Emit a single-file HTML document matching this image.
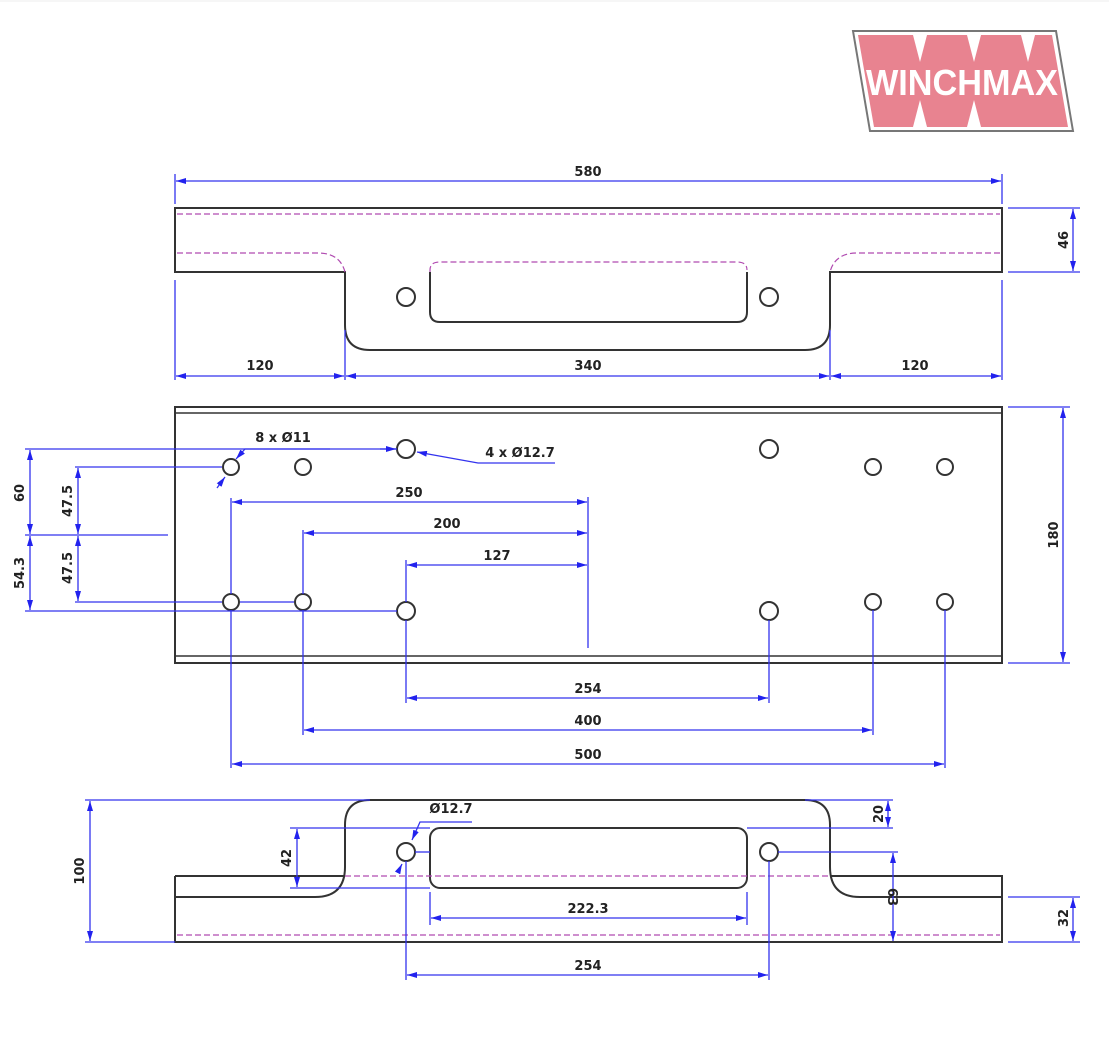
<!DOCTYPE html>
<html><head><meta charset="utf-8"><style>
html,body{margin:0;padding:0;background:#fff;}
svg{display:block;}
text{font-family:"DejaVu Sans","Liberation Sans",sans-serif;font-weight:bold;font-size:13px;fill:#222;}
</style></head><body>
<svg width="1109" height="1038" viewBox="0 0 1109 1038" xmlns="http://www.w3.org/2000/svg">
<defs>
<marker id="a" viewBox="0 0 10 6" refX="10" refY="3" markerWidth="10" markerHeight="6" orient="auto-start-reverse" markerUnits="userSpaceOnUse"><path d="M0,0 L10,3 L0,6 z" fill="#2222ee"/></marker>
</defs>
<line x1="0" y1="1" x2="1109" y2="1" stroke="#eee"/>
<!-- logo -->
<polygon points="853,31 1056,31 1073,131 870,131" fill="#fff" stroke="#777" stroke-width="2"/>
<polygon points="858,35 1052,35 1068,127 874,127" fill="#e88390"/>
<g fill="#fff">
<polygon points="913,35 927,35 920,62"/><polygon points="967,35 981,35 974,62"/><polygon points="1021,35 1035,35 1028,62"/>
<polygon points="913,127 927,127 920,100"/><polygon points="967,127 981,127 974,100"/>
</g>
<text x="962" y="95" text-anchor="middle" textLength="192" lengthAdjust="spacingAndGlyphs" style="font-family:'Liberation Sans',sans-serif;font-size:36px;font-weight:bold;fill:#fff">WINCHMAX</text>

<g fill="none" stroke="#333" stroke-width="2">
<!-- top view -->
<path d="M345,272 L175,272 L175,208 L1002,208 L1002,272 L830,272 L830,325 Q830,350 805,350 L370,350 Q345,350 345,325 Z"/>
<path d="M440,322 Q430,322 430,312 M430,312 L430,272 M747,272 L747,312 Q747,322 737,322 L440,322"/>
<circle cx="406" cy="297" r="9"/><circle cx="769" cy="297" r="9"/>
<!-- middle -->
<rect x="175" y="407" width="827" height="256"/>
<line x1="175" y1="413" x2="1002" y2="413" stroke-width="1.5"/>
<line x1="175" y1="656" x2="1002" y2="656" stroke-width="1.5"/>
<circle cx="231" cy="467" r="8"/><circle cx="303" cy="467" r="8"/><circle cx="406" cy="449" r="9"/><circle cx="769" cy="449" r="9"/><circle cx="873" cy="467" r="8"/><circle cx="945" cy="467" r="8"/>
<circle cx="231" cy="602" r="8"/><circle cx="303" cy="602" r="8"/><circle cx="406" cy="611" r="9"/><circle cx="769" cy="611" r="9"/><circle cx="873" cy="602" r="8"/><circle cx="945" cy="602" r="8"/>
<!-- bottom -->
<path d="M175,876 L175,942 L1002,942 L1002,876 L830,876"/>
<path d="M175,876 L345,876"/>
<path d="M175,897 L315,897 Q345,897 345,867 L345,825 Q345,800 370,800 L805,800 Q830,800 830,825 L830,867 Q830,897 860,897 L1002,897"/>
<rect x="430" y="828" width="317" height="60" rx="10"/>
<circle cx="406" cy="852" r="9"/><circle cx="769" cy="852" r="9"/>
</g>
<g fill="none" stroke="#b04ab0" stroke-width="1.2" stroke-dasharray="6,3">
<line x1="177" y1="214" x2="1000" y2="214"/>
<path d="M177,253 L318,253 Q340,253 345,272"/>
<path d="M1000,253 L857,253 Q835,253 830,272"/>
<path d="M430,272 L430,270 Q430,262 440,262 L737,262 Q747,262 747,270"/>
<line x1="345" y1="876" x2="830" y2="876"/>
<line x1="177" y1="935" x2="1000" y2="935"/>
</g>

<g stroke="#3333ee" stroke-width="1.3" fill="none">
<line x1="175" y1="174" x2="175" y2="204"/><line x1="1002" y1="174" x2="1002" y2="204"/>
<line x1="176" y1="181" x2="1001" y2="181" marker-start="url(#a)" marker-end="url(#a)"/>
<line x1="175" y1="280" x2="175" y2="380"/><line x1="345" y1="330" x2="345" y2="380"/><line x1="830" y1="330" x2="830" y2="380"/><line x1="1002" y1="280" x2="1002" y2="380"/>
<line x1="176" y1="376" x2="344" y2="376" marker-start="url(#a)" marker-end="url(#a)"/>
<line x1="346" y1="376" x2="829" y2="376" marker-start="url(#a)" marker-end="url(#a)"/>
<line x1="831" y1="376" x2="1001" y2="376" marker-start="url(#a)" marker-end="url(#a)"/>
<line x1="1008" y1="208" x2="1080" y2="208"/><line x1="1008" y1="272" x2="1080" y2="272"/>
<line x1="1073" y1="209" x2="1073" y2="271" marker-start="url(#a)" marker-end="url(#a)"/>
<line x1="1008" y1="407" x2="1070" y2="407"/><line x1="1008" y1="663" x2="1070" y2="663"/>
<line x1="1063" y1="408" x2="1063" y2="662" marker-start="url(#a)" marker-end="url(#a)"/>
<line x1="25" y1="449" x2="397" y2="449"/><line x1="75" y1="467" x2="222" y2="467"/><line x1="25" y1="535" x2="168" y2="535"/>
<line x1="75" y1="602" x2="222" y2="602"/><line x1="25" y1="611" x2="397" y2="611"/><line x1="240" y1="602" x2="294" y2="602"/>
<line x1="30" y1="450" x2="30" y2="534" marker-start="url(#a)" marker-end="url(#a)"/>
<line x1="30" y1="536" x2="30" y2="610" marker-start="url(#a)" marker-end="url(#a)"/>
<line x1="78" y1="468" x2="78" y2="534" marker-start="url(#a)" marker-end="url(#a)"/>
<line x1="78" y1="536" x2="78" y2="601" marker-start="url(#a)" marker-end="url(#a)"/>
<line x1="231" y1="498" x2="231" y2="594"/><line x1="231" y1="610" x2="231" y2="768"/>
<line x1="303" y1="530" x2="303" y2="594"/><line x1="303" y1="610" x2="303" y2="735"/>
<line x1="406" y1="560" x2="406" y2="602"/><line x1="406" y1="620" x2="406" y2="703"/>
<line x1="769" y1="620" x2="769" y2="703"/><line x1="873" y1="610" x2="873" y2="735"/><line x1="945" y1="610" x2="945" y2="768"/>
<line x1="588" y1="497" x2="588" y2="648"/>
<line x1="232" y1="502" x2="587" y2="502" marker-start="url(#a)" marker-end="url(#a)"/>
<line x1="304" y1="533" x2="587" y2="533" marker-start="url(#a)" marker-end="url(#a)"/>
<line x1="407" y1="565" x2="587" y2="565" marker-start="url(#a)" marker-end="url(#a)"/>
<line x1="407" y1="698" x2="768" y2="698" marker-start="url(#a)" marker-end="url(#a)"/>
<line x1="304" y1="730" x2="872" y2="730" marker-start="url(#a)" marker-end="url(#a)"/>
<line x1="232" y1="764" x2="944" y2="764" marker-start="url(#a)" marker-end="url(#a)"/>
<path d="M330,449 L245,449 L236,459" marker-end="url(#a)"/>
<line x1="217" y1="488" x2="225" y2="477" marker-end="url(#a)"/>
<path d="M555,463 L478,463 L417,452" marker-end="url(#a)"/>
<line x1="380" y1="449" x2="396" y2="449" marker-end="url(#a)"/>
<line x1="85" y1="800" x2="370" y2="800"/><line x1="85" y1="942" x2="175" y2="942"/>
<line x1="90" y1="801" x2="90" y2="941" marker-start="url(#a)" marker-end="url(#a)"/>
<line x1="290" y1="828" x2="430" y2="828"/><line x1="290" y1="888" x2="430" y2="888"/>
<line x1="297" y1="829" x2="297" y2="887" marker-start="url(#a)" marker-end="url(#a)"/>
<line x1="805" y1="800" x2="893" y2="800"/><line x1="747" y1="828" x2="893" y2="828"/>
<line x1="888" y1="801" x2="888" y2="827" marker-start="url(#a)" marker-end="url(#a)"/>
<line x1="778" y1="852" x2="898" y2="852"/>
<line x1="893" y1="853" x2="893" y2="941" marker-start="url(#a)" marker-end="url(#a)"/>
<line x1="1008" y1="897" x2="1080" y2="897"/><line x1="1008" y1="942" x2="1080" y2="942"/>
<line x1="1073" y1="898" x2="1073" y2="941" marker-start="url(#a)" marker-end="url(#a)"/>
<line x1="430" y1="892" x2="430" y2="925"/><line x1="747" y1="892" x2="747" y2="925"/>
<line x1="431" y1="918" x2="746" y2="918" marker-start="url(#a)" marker-end="url(#a)"/>
<line x1="406" y1="861" x2="406" y2="980"/><line x1="769" y1="861" x2="769" y2="980"/>
<line x1="415" y1="852" x2="430" y2="852"/>
<line x1="407" y1="975" x2="768" y2="975" marker-start="url(#a)" marker-end="url(#a)"/>
<path d="M472,822 L420,822 L412,840" marker-end="url(#a)"/>
<line x1="398" y1="872" x2="402" y2="864" marker-end="url(#a)"/>
</g>

<g>
<text x="588" y="176" text-anchor="middle">580</text>
<text x="260" y="370" text-anchor="middle">120</text>
<text x="588" y="370" text-anchor="middle">340</text>
<text x="915" y="370" text-anchor="middle">120</text>
<text transform="translate(1068,240) rotate(-90)" text-anchor="middle">46</text>
<text transform="translate(1058,535) rotate(-90)" text-anchor="middle">180</text>
<text transform="translate(24,493) rotate(-90)" text-anchor="middle">60</text>
<text transform="translate(24,573) rotate(-90)" text-anchor="middle">54.3</text>
<text transform="translate(72,501) rotate(-90)" text-anchor="middle">47.5</text>
<text transform="translate(72,568) rotate(-90)" text-anchor="middle">47.5</text>
<text x="283" y="442" text-anchor="middle">8 x Ø11</text>
<text x="520" y="457" text-anchor="middle">4 x Ø12.7</text>
<text x="409" y="497" text-anchor="middle">250</text>
<text x="447" y="528" text-anchor="middle">200</text>
<text x="497" y="560" text-anchor="middle">127</text>
<text x="588" y="693" text-anchor="middle">254</text>
<text x="588" y="725" text-anchor="middle">400</text>
<text x="588" y="759" text-anchor="middle">500</text>
<text transform="translate(84,871) rotate(-90)" text-anchor="middle">100</text>
<text transform="translate(291,858) rotate(-90)" text-anchor="middle">42</text>
<text x="451" y="813" text-anchor="middle">Ø12.7</text>
<text transform="translate(883,814) rotate(-90)" text-anchor="middle">20</text>
<text transform="translate(888,897) rotate(90)" text-anchor="middle">63</text>
<text transform="translate(1068,918) rotate(-90)" text-anchor="middle">32</text>
<text x="588" y="913" text-anchor="middle">222.3</text>
<text x="588" y="970" text-anchor="middle">254</text>
</g>
</svg>
</body></html>
